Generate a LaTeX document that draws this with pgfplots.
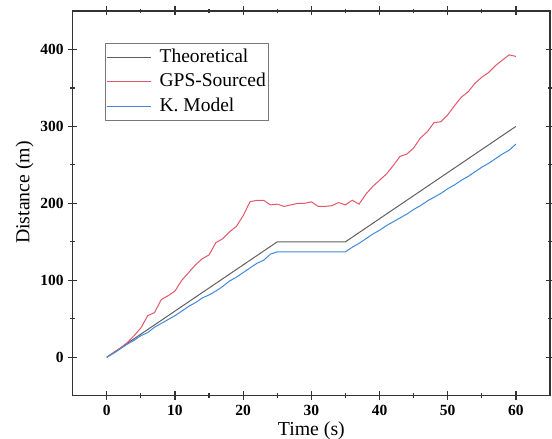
\documentclass[border=0pt]{standalone}
\usepackage{pgfplots}
\pgfplotsset{compat=1.18}
\usepackage{fontspec}
\setmainfont{Liberation Serif}
\definecolor{ctheo}{RGB}{95,95,95}
\definecolor{cgps}{RGB}{226,88,104}
\definecolor{ckmod}{RGB}{66,136,218}
\definecolor{axc}{RGB}{50,50,50}
\definecolor{legc}{RGB}{120,120,120}
\begin{document}
\begin{tikzpicture}
\begin{axis}[
  at={(0pt,0pt)}, anchor=south west,
  scale only axis, width=477.3pt, height=384.7pt,
  xmin=-5, xmax=65, ymin=-50, ymax=450,
  xtick={0,10,...,60}, ytick={0,100,...,400},
  minor x tick num=1, minor y tick num=1,
  tick align=center, major tick length=9pt, minor tick length=4.5pt,
  every tick/.style={axc, line width=1.2pt},
  axis line style={axc, line width=1.4pt},
  /pgf/number format/assume math mode=true,
  tick label style={font=\fontsize{15.5}{15.5}\selectfont\bfseries, black},
  xticklabel style={yshift=-1pt},
  yticklabel style={xshift=-1pt},
  xlabel={Time (s)}, ylabel={Distance (m)},
  xlabel style={font=\fontsize{19.8}{19.8}\selectfont, at={(axis description cs:0.5,0)}, anchor=north, inner sep=0pt, yshift=-26pt},
  ylabel style={font=\fontsize{19.8}{19.8}\selectfont, at={(axis description cs:-0.1006,0.528)}, anchor=center, inner sep=0pt},
  legend cell align=left,
  legend style={at={(axis description cs:0.0677,0.9177)}, anchor=north west,
    draw=legc, line width=0.8pt, inner xsep=1pt, inner ysep=2pt, row sep=0pt, column sep=6pt,
    font=\fontsize{19.5}{19.5}\selectfont,
    nodes={inner ysep=3.5pt, inner xsep=2pt, text height=13.5pt, text depth=4pt}},
]
\addplot[draw=ctheo, line width=1pt,
  legend image code/.code={\draw[ctheo, line width=1.2pt] (0pt,0pt) -- (44pt,0pt);}]
  coordinates {(0,0) (25,150) (35,150) (60,300)};
\addlegendentry{Theoretical}
\addplot[draw=cgps, line width=1pt,
  legend image code/.code={\draw[cgps, line width=1.2pt] (0pt,0pt) -- (44pt,0pt);}]
  coordinates {
(0,0) (1,6) (2,12) (3,19) (4,28) (5,38) (6,54) (7,58) (8,75) (9,80)
(10,86) (11,100) (12,110) (13,120) (14,128) (15,133) (16,149) (17,154) (18,163) (19,170)
(20,184) (21,202) (22,204) (23,204) (24,198) (25,199) (26,196) (27,198) (28,200) (29,200)
(30,202) (31,196) (32,196) (33,197) (34,201) (35,198) (36,204) (37,199) (38,212) (39,222)
(40,230) (41,238) (42,249) (43,261) (44,264) (45,272) (46,285) (47,293) (48,305) (49,306)
(50,315) (51,327) (52,338) (53,345) (54,356) (55,364) (56,370) (57,379) (58,386) (59,393) (60,391)};
\addlegendentry{GPS-Sourced}
\addplot[draw=ckmod, line width=1pt,
  legend image code/.code={\draw[ckmod, line width=1.2pt] (0pt,0pt) -- (44pt,0pt);}]
  coordinates {
(0,0) (1,5) (2,11) (3,17) (4,22) (5,28) (6,32) (7,39) (8,44) (9,49)
(10,54) (11,60) (12,66) (13,71) (14,77) (15,81) (16,86) (17,92) (18,99) (19,104)
(20,110) (21,116) (22,122) (23,126) (24,134) (25,137) (26,137) (27,137) (28,137) (29,137)
(30,137) (31,137) (32,137) (33,137) (34,137) (35,137) (36,143) (37,148) (38,154) (39,160)
(40,165) (41,171) (42,176) (43,181) (44,186) (45,192) (46,197) (47,203) (48,208) (49,213)
(50,219) (51,224) (52,230) (53,235) (54,241) (55,247) (56,252) (57,258) (58,264) (59,269) (60,277)};
\addlegendentry{K. Model}
\end{axis}
\pgfresetboundingbox
\path (-72.7pt,-43.3pt) rectangle (479.3pt,395.7pt);
\end{tikzpicture}
\end{document}
